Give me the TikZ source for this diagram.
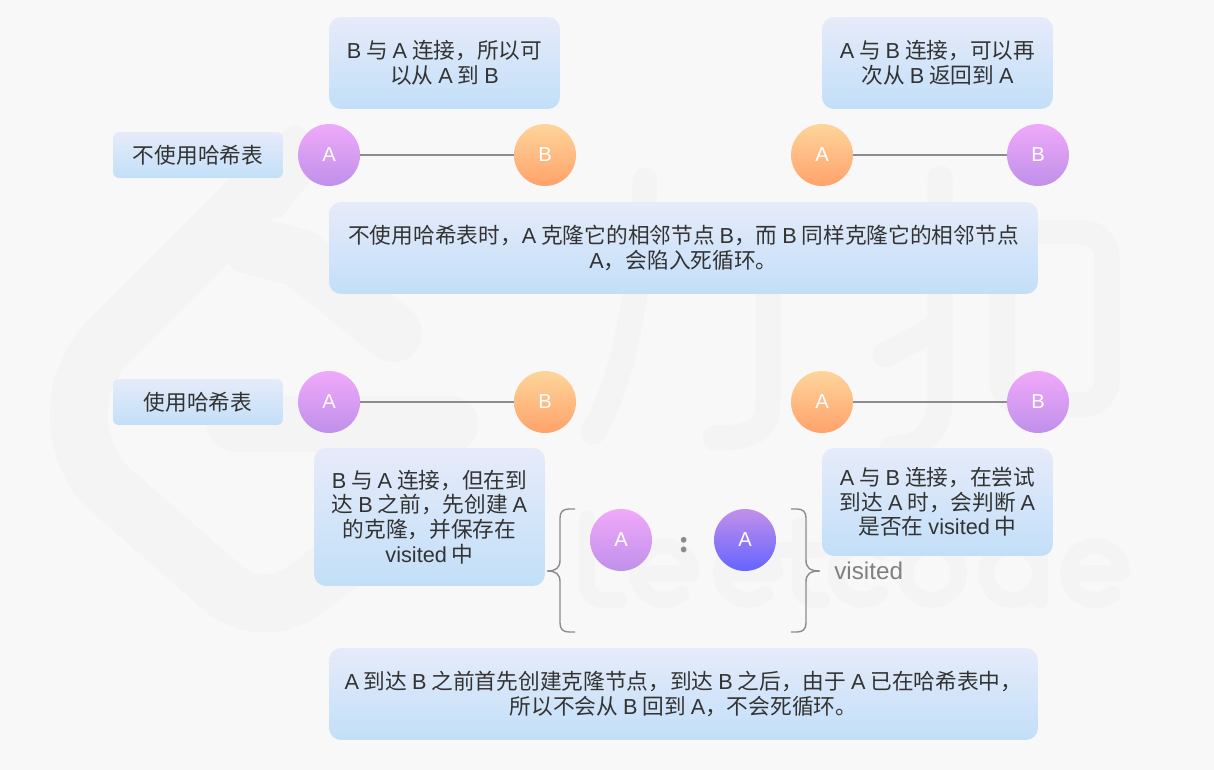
\documentclass[tikz,border=0pt]{standalone}
\usepackage{fontspec}
\setmainfont{Noto Sans CJK SC}
\newfontfamily\enfont{Liberation Sans}
\newcommand{\en}[1]{{\enfont #1}}
\definecolor{pagebg}{HTML}{F8F8F8}
\definecolor{markgray}{HTML}{F4F4F4}
\definecolor{inkgray}{HTML}{333333}
\definecolor{boxtop}{HTML}{E6EBFA}
\definecolor{boxbot}{HTML}{C2DFF8}
\definecolor{pinktop}{HTML}{F0A9FA}
\definecolor{pinkbot}{HTML}{BF90EA}
\definecolor{orangetop}{HTML}{FDD59B}
\definecolor{orangebot}{HTML}{FFA26A}
\definecolor{bluetop}{HTML}{C390EA}
\definecolor{bluebot}{HTML}{6464FF}
\tikzset{
  textbox/.style={rounded corners=0.24cm, top color=boxtop, bottom color=boxbot, text=inkgray, align=center, font=\fontsize{12.35}{14}\selectfont, inner sep=0pt},
  labelbox/.style={textbox, rounded corners=0.12cm, minimum width=3.4cm, minimum height=0.92cm},
  vertex/.style={circle, minimum size=1.24cm, inner sep=0pt, text=white, font=\enfont\fontsize{11.5}{13}\selectfont},
  pinkv/.style={vertex, top color=pinktop, bottom color=pinkbot},
  orangev/.style={vertex, top color=orangetop, bottom color=orangebot},
  bluev/.style={vertex, top color=bluetop, bottom color=bluebot},
  edge/.style={draw=gray!90, line width=1pt},
  bracket/.style={draw=gray!90, line width=0.8pt},
  markline/.style={draw=markgray, line cap=round, line join=round},
  markword/.style={markline, line width=0.32cm},
}
\begin{document}
\begin{tikzpicture}[x=0.02cm,y=-0.02cm]
\fill[pagebg] (0,0) rectangle (1214,770);
% logo behind everything
\fill[markgray, rounded corners=0.2cm] (296,120) -- (326,162) -- (277,222) -- (225,190) -- cycle;
\draw[markline, line width=1.16cm] (285,165) -- (105,345) .. controls (70,385) and (70,445) .. (105,485) -- (225,590) .. controls (250,608) and (280,608) .. (305,590) -- (345,560);
\draw[markline, line width=1.16cm] (393,333) -- (300,258) -- (250,245);
\draw[markline, line width=1.12cm] (235,424) -- (450,424);
\draw[markline, line width=0.5cm] (645,180) .. controls (642,280) and (625,380) .. (593,432);
\draw[markline, line width=0.5cm] (768,280) -- (768,400) .. controls (768,432) and (750,438) .. (715,438);
\draw[markline, line width=0.5cm] (940,178) -- (940,400) .. controls (940,432) and (920,448) .. (892,448);
\draw[markline, line width=0.5cm] (885,355) -- (935,328);
\draw[markline, line width=0.5cm, rounded corners=0.5cm] (1002,280) -- (1002,405) -- (1107,405) -- (1107,232) -- (985,232);
% the word under the logo
\draw[markword, rounded corners=0.3cm] (587,518) -- (587,600) -- (620,600);
\foreach \cx in {664,748,1095} {
  \draw[markword] (\cx-27,573) -- (\cx+27,573) arc[start angle=0, end angle=-310, radius=27];
}
\draw[markword, rounded corners=0.3cm] (800,525) -- (800,600) -- (822,600);
\draw[markword] (778,550) -- (820,550);
\draw[markword] (880,552) arc[start angle=-50, end angle=-310, radius=27];
\draw[markword] (932,573) circle[radius=27];
\draw[markword] (1013,573) circle[radius=27];
\draw[markword] (1040,515) -- (1040,600);
% upper row
\node[textbox, minimum width=4.62cm, minimum height=1.84cm] (note1) at (444.5,63) {\en{B} 与 \en{A} 连接，所以可\\以从 \en{A} 到 \en{B}};
\node[textbox, minimum width=4.62cm, minimum height=1.84cm] (note2) at (937.5,63) {\en{A} 与 \en{B} 连接，可以再\\次从 \en{B} 返回到 \en{A}};
\node[labelbox] (title1) at (198,155) {不使用哈希表};
\node[pinkv] (a1) at (329,155) {A};
\node[orangev] (b1) at (545,155) {B};
\node[orangev] (a2) at (822,155) {A};
\node[pinkv] (b2) at (1038,155) {B};
\draw[edge] (a1) -- (b1);
\draw[edge] (a2) -- (b2);
\node[textbox, minimum width=14.18cm, minimum height=1.84cm] (note3) at (683.5,248) {不使用哈希表时，\en{A} 克隆它的相邻节点 \en{B}，而 \en{B} 同样克隆它的相邻节点\\\en{A}，会陷入死循环。};
% lower row
\node[labelbox] (title2) at (198,402) {使用哈希表};
\node[pinkv] (a3) at (329,402) {A};
\node[orangev] (b3) at (545,402) {B};
\node[orangev] (a4) at (822,402) {A};
\node[pinkv] (b4) at (1038,402) {B};
\draw[edge] (a3) -- (b3);
\draw[edge] (a4) -- (b4);
\node[textbox, minimum width=4.62cm, minimum height=2.76cm] (note4) at (429.5,517) {\en{B} 与 \en{A} 连接，但在到\\达 \en{B} 之前，先创建 \en{A}\\的克隆，并保存在\\\en{visited} 中};
\node[textbox, minimum width=4.62cm, minimum height=2.16cm] (note5) at (937.5,502) {\en{A} 与 \en{B} 连接，在尝试\\到达 \en{A} 时，会判断 \en{A}\\是否在 \en{visited} 中};
% visited table
\coordinate (lt) at (575,509);
\coordinate (lb) at (575,632);
\coordinate (lm) at (547,571);
\coordinate (rt) at (791,509);
\coordinate (rb) at (791,632);
\coordinate (rm) at (820,571);
\draw[bracket] (lt) -- (569,509) .. controls (563,509) and (560,512) .. (560,518) -- (560,560) .. controls (560,568) and (556,571) .. (lm) .. controls (556,571) and (560,574) .. (560,582) -- (560,623) .. controls (560,629) and (563,632) .. (569,632) -- (lb);
\draw[bracket] (rt) -- (797,509) .. controls (803,509) and (806,512) .. (806,518) -- (806,560) .. controls (806,568) and (810,571) .. (rm) .. controls (810,571) and (806,574) .. (806,582) -- (806,623) .. controls (806,629) and (803,632) .. (797,632) -- (rb);
\node[pinkv] (key) at (621,540) {A};
\node[bluev] (val) at (745,540) {A};
\node[text=gray!90, font=\fontsize{15}{17}\selectfont\bfseries] (colon) at (684,545) {:};
\node[text=gray, anchor=west, inner sep=0pt, font=\enfont\fontsize{13.8}{16}\selectfont] (visited) at (834,571) {visited};
\node[textbox, minimum width=14.18cm, minimum height=1.84cm] (note6) at (683.5,694) {\en{A} 到达 \en{B} 之前首先创建克隆节点，到达 \en{B} 之后，由于 \en{A} 已在哈希表中，\\所以不会从 \en{B} 回到 \en{A}，不会死循环。};
\end{tikzpicture}
\end{document}
